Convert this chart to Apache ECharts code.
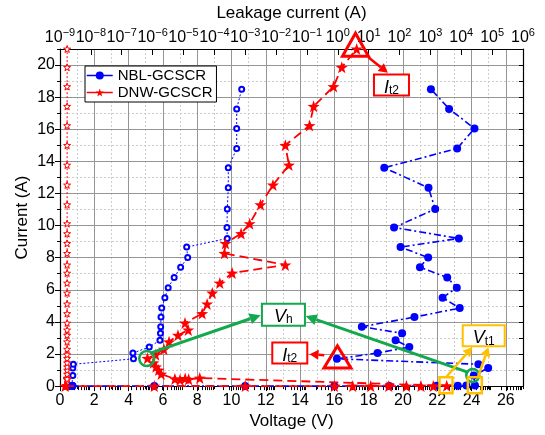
<!DOCTYPE html>
<html><head><meta charset="utf-8">
<script src="https://cdn.jsdelivr.net/npm/echarts@6/dist/echarts.min.js"></script>
<style>html,body{margin:0;padding:0;background:#fff}#c{width:545px;height:435px}</style>
</head><body><div id="c"></div>
<script>
// ---------- data ----------
const nblV = [0.7, 5.5, 10.8, 16.0, 19.2, 21.96, 23.2, 23.7, 24.2,
  24.13, 24.97, 24.4,
  16.15, 18.52, 20.37, 19.57, 19.95, 17.6, 20.67, 23.31, 22.31, 23.14,
  22.58, 20.99, 21.47, 19.86, 23.26, 19.48, 21.88, 21.49, 18.91, 23.16,
  24.17, 22.69, 21.63];
const nblI = [0, 0, 0, 0, 0, 0.02, 0.02, 0.03, 0.04,
  0.66, 1.13, 1.36,
  1.70, 2.06, 2.43, 2.86, 3.29, 3.70, 4.30, 4.86, 5.51, 6.13,
  6.77, 7.41, 8.01, 8.66, 9.20, 9.88, 11.03, 12.35, 13.60, 14.80,
  16.05, 17.27, 18.50];
const nblLeak = [2.4e-9, 2.5e-9, 2.5e-9, 2.6e-9, 2.5e-9, 2.6e-9, 2.5e-9, 2.6e-9, 2.5e-9,
  2.6e-9, 2.6e-9, 2.7e-9,
  2.4e-7, 2.3e-7, 7.8e-7, 1.73e-6, 1.80e-6, 1.83e-6, 1.87e-6, 1.97e-6, 2.5e-6, 3.2e-6,
  5.0e-6, 8.1e-6, 1.37e-5, 1.27e-5, 2.63e-4, 2.57e-4, 2.63e-4, 2.83e-4, 2.83e-4, 5.3e-4,
  5.3e-4, 5.3e-4, 7.7e-4];

const dnwV = [0.3, 5.5, 10.8, 16.0, 17.07, 18.12, 19.17, 20.2, 21.05, 21.77, 22.55,
  8.15, 7.5, 7.3, 7.0, 6.7,
  5.9, 5.75, 5.6, 5.45, 5.1,
  5.58, 6.06, 6.36, 6.88, 7.48, 7.29, 8.29, 8.58, 8.88, 9.32,
  10.04, 13.14, 9.59, 9.65, 10.56, 11.06, 11.69, 12.42, 13.35, 13.14,
  14.55, 14.79, 15.95, 16.43, 17.3];
const dnwI = [0, 0, 0, 0, 0, 0, 0, 0, 0, 0, 0.02,
  0.5, 0.42, 0.48, 0.4, 0.45,
  0.75, 1.0, 1.2, 1.45, 1.73,
  1.96, 2.30, 2.76, 3.17, 3.50, 3.93, 4.52, 5.12, 5.80, 6.42,
  7.04, 7.55, 8.27, 8.89, 9.50, 10.12, 11.30, 12.53, 13.77, 15.00,
  16.23, 17.43, 18.66, 19.86, 21.0];
const dnwLeak = [1.6e-9, 1.6e-9, 1.6e-9, 1.6e-9, 1.6e-9, 1.6e-9, 1.6e-9, 1.6e-9, 1.6e-9, 1.6e-9, 1.6e-9,
  1.7e-9, 1.7e-9, 1.7e-9, 1.7e-9, 1.7e-9,
  1.7e-9, 1.7e-9, 1.7e-9, 1.7e-9, 1.7e-9,
  1.7e-9, 1.7e-9, 1.7e-9, 1.7e-9, 1.7e-9, 1.7e-9, 1.7e-9, 1.7e-9, 1.7e-9, 1.7e-9,
  1.7e-9, 1.7e-9, 1.7e-9, 1.7e-9, 1.7e-9, 1.7e-9, 1.7e-9, 1.7e-9, 1.7e-9, 1.7e-9,
  1.7e-9, 1.7e-9, 1.7e-9, 1.7e-9, 1.7e-9];

const leakDecades = [-9, -8, -7, -6, -5, -4, -3, -2, -1, 0, 1, 2, 3, 4, 5, 6];
const voltRange = [0, 27];
const currRange = [0, 21];
const seriesNames = ['NBL-GCSCR', 'DNW-GCSCR'];

// ---------- styling ----------
const FONT = 'Liberation Sans, Arial, sans-serif';
const BLUE = '#0000ff', RED = '#ff0000', GREEN = '#12a84c', ORANGE = '#ffc000';
const STAR = 'path://M0,-10 L2.35,-3.24 L9.51,-3.09 L3.8,1.24 L5.88,8.09 L0,4 L-5.88,8.09 L-3.8,1.24 L-9.51,-3.09 L-2.35,-3.24 Z';
const MAJ = '#959595', MIN = '#cccccc';

const minorLogTicks = [];
for (let n = leakDecades[0]; n < leakDecades[leakDecades.length - 1]; n++) {
  for (let k = 2; k <= 9; k++) minorLogTicks.push(n + Math.log10(k));
}
const supText = v => {
  const s = v < 0 ? '\u2212' + (-v) : String(v);
  return '{a|10}{b|' + s + '}';
};
const axisLineStyle = { color: '#000', width: 1.2 };

const option = {
  animation: false,
  backgroundColor: '#fff',
  textStyle: { fontFamily: FONT },
  grid: { left: 60, right: 22, top: 48, bottom: 46 },
  legend: {
    data: seriesNames,
    orient: 'vertical', left: 85, top: 66,
    padding: [2, 4, 2, 1], itemGap: 2, itemWidth: 26, itemHeight: 10,
    borderColor: '#000', borderWidth: 1, backgroundColor: '#fff',
    lineStyle: { type: 'solid', width: 1.5 },
    textStyle: { fontSize: 15, fontFamily: FONT, color: '#000', lineHeight: 15 }
  },
  xAxis: [
    { // bottom voltage, major
      type: 'value', position: 'bottom', min: voltRange[0], max: voltRange[1], interval: 2, z: 1,
      name: 'Voltage (V)', nameLocation: 'middle', nameGap: 24,
      nameTextStyle: { fontSize: 17, color: '#000', fontFamily: FONT },
      axisLine: { show: true, onZero: false, lineStyle: axisLineStyle },
      axisTick: { show: true, inside: false, length: 5, lineStyle: { color: '#000' } },
      axisLabel: { fontSize: 16, color: '#000', margin: 6, showMaxLabel: false, fontFamily: FONT },
      splitLine: { show: true, lineStyle: { color: MAJ, width: 1 } }
    },
    { // top leakage, log-decade labels
      type: 'value', position: 'top', min: leakDecades[0], max: leakDecades[leakDecades.length - 1], interval: 1, z: 1,
      name: 'Leakage current (A)', nameLocation: 'middle', nameGap: 27,
      nameTextStyle: { fontSize: 17, color: '#000', fontFamily: FONT },
      axisLine: { show: true, onZero: false, lineStyle: axisLineStyle },
      axisTick: { show: true, inside: true, length: 6, lineStyle: { color: '#000', width: 1 } },
      axisLabel: {
        margin: 3, interval: 0, hideOverlap: false, formatter: supText,
        rich: {
          a: { fontSize: 16, lineHeight: 19, verticalAlign: 'bottom', color: '#000', fontFamily: FONT },
          b: { fontSize: 11, lineHeight: 11, verticalAlign: 'top', color: '#000', fontFamily: FONT }
        }
      },
      splitLine: { show: false }
    },
    { // top minor log ticks
      type: 'value', position: 'top', min: leakDecades[0], max: leakDecades[leakDecades.length - 1], interval: 15, z: 1,
      axisLine: { show: false }, axisLabel: { show: false }, splitLine: { show: false },
      axisTick: { show: true, inside: true, length: 4, customValues: minorLogTicks, lineStyle: { color: '#000', width: 1 } }
    },
    { // bottom minor grid
      type: 'value', position: 'bottom', min: voltRange[0], max: voltRange[1], interval: 1, z: 0,
      axisLine: { show: false }, axisLabel: { show: false },
      axisTick: { show: true, inside: false, length: 3, lineStyle: { color: '#000' } },
      splitLine: { show: true, lineStyle: { color: MIN, width: 1, type: [2, 2] } }
    }
  ],
  yAxis: [
    {
      type: 'value', position: 'left', min: currRange[0], max: currRange[1], interval: 2, z: 1,
      name: 'Current (A)', nameLocation: 'middle', nameGap: 29, nameMoveOverlap: false,
      nameTextStyle: { fontSize: 17, color: '#000', fontFamily: FONT },
      axisLine: { show: true, onZero: false, lineStyle: axisLineStyle },
      axisTick: { show: true, inside: false, length: 5, lineStyle: { color: '#000' } },
      axisLabel: { fontSize: 16, color: '#000', margin: 5, showMaxLabel: false, fontFamily: FONT },
      splitLine: { show: true, lineStyle: { color: MAJ, width: 1 } }
    },
    {
      type: 'value', position: 'right', min: currRange[0], max: currRange[1], interval: 1, z: 1,
      axisLine: { show: true, onZero: false, lineStyle: axisLineStyle },
      axisTick: { show: true, inside: true, length: 4, lineStyle: { color: '#000' } },
      axisLabel: { show: false }, splitLine: { show: false }
    },
    {
      type: 'value', position: 'left', min: currRange[0], max: currRange[1], interval: 1, z: 0,
      axisLine: { show: false }, axisLabel: { show: false },
      axisTick: { show: true, inside: false, length: 3, lineStyle: { color: '#000' } },
      splitLine: { show: true, lineStyle: { color: MIN, width: 1, type: [2, 2] } }
    }
  ],
  series: [
    {
      name: 'NBL-leak', type: 'line', xAxisIndex: 1, yAxisIndex: 0, clip: false, z: 3,
      data: nblLeak.map((v, i) => [Math.log10(v), nblI[i]]),
      symbol: 'emptyCircle', symbolSize: 5,
      itemStyle: { color: BLUE, borderWidth: 1 },
      lineStyle: { color: BLUE, width: 1, type: [2, 2] }
    },
    {
      name: 'DNW-leak', type: 'line', xAxisIndex: 1, yAxisIndex: 0, clip: false, z: 3,
      data: dnwLeak.map((v, i) => [Math.log10(v), dnwI[i]]),
      symbol: STAR, symbolSize: 7,
      itemStyle: { color: '#fff', borderColor: RED, borderWidth: 1 },
      lineStyle: { color: RED, width: 1, type: [2, 2] }
    },
    {
      name: seriesNames[0], type: 'line', xAxisIndex: 0, yAxisIndex: 0, clip: false, z: 4,
      data: nblV.map((v, i) => [v, nblI[i]]),
      symbol: 'circle', symbolSize: 8,
      itemStyle: { color: BLUE },
      lineStyle: { color: BLUE, width: 1.6, type: [7, 3, 2, 3] }
    },
    {
      name: seriesNames[1], type: 'line', xAxisIndex: 0, yAxisIndex: 0, clip: false, z: 5,
      data: dnwV.map((v, i) => [v, dnwI[i]]),
      symbol: STAR, symbolSize: 12,
      itemStyle: { color: RED },
      lineStyle: { color: RED, width: 1.8, type: [9, 5] }
    }
  ]
};

const chart = echarts.init(document.getElementById('c'), null, { renderer: 'canvas' });
chart.setOption(option);

// ---------- annotations (in data coordinates of the V-I axes) ----------
const anno = {
  triangles: [ { c: [17.23, 21.27], w: 26, h: 23 }, { c: [16.18, 1.82], w: 27, h: 22 } ],
  redArrows: [ [[17.98, 20.48], [19.12, 19.52]], [[15.41, 1.92], [14.55, 1.99]] ],
  redBoxes: [ { c: [19.33, 18.75], w: 35, h: 21 }, { c: [13.40, 2.06], w: 35, h: 21 } ],
  vhBox: { c: [13.03, 4.45], w: 43, h: 22 },
  greenCircles: [ { c: [5.06, 1.72], r: 7.5 }, { c: [24.07, 0.66], r: 6.5 } ],
  greenArrows: [ [[5.35, 2.09], [11.70, 4.42]], [[23.81, 0.86], [14.33, 4.36]] ],
  vt1Box: { c: [24.71, 3.14], w: 42, h: 21 },
  orangeSquares: [ { c: [22.51, 0.06], w: 13, h: 16 }, { c: [24.19, 0.06], w: 14, h: 16 } ],
  orangeArrows: [ [[22.55, 0.6], [24.04, 2.42]], [[24.39, 0.6], [24.98, 2.42]] ]
};
const P = (p) => chart.convertToPixel({ xAxisIndex: 0, yAxisIndex: 0 }, p);

function arrowEls(from, to, color, w, hl, hw) {
  const a = P(from), b = P(to);
  const dx = b[0] - a[0], dy = b[1] - a[1], L = Math.hypot(dx, dy), ux = dx / L, uy = dy / L;
  const bx = b[0] - ux * hl, by = b[1] - uy * hl;
  return [
    { type: 'line', z: 100, shape: { x1: a[0], y1: a[1], x2: bx, y2: by }, style: { stroke: color, lineWidth: w } },
    { type: 'polygon', z: 100, shape: { points: [[b[0], b[1]], [bx - uy * hw, by + ux * hw], [bx + uy * hw, by - ux * hw]] }, style: { fill: color } }
  ];
}
function boxEls(spec, color, main, sub) {
  const c = P(spec.c);
  return [
    { type: 'rect', z: 100, shape: { x: c[0] - spec.w / 2, y: c[1] - spec.h / 2, width: spec.w, height: spec.h },
      style: { fill: '#fff', stroke: color, lineWidth: 2 } },
    { type: 'text', z: 101, x: c[0], y: c[1] + 1,
      style: { text: '{i|' + main + '}{s|' + sub + '}', align: 'center', verticalAlign: 'middle',
        rich: {
          i: { fontSize: 18, fontStyle: 'italic', lineHeight: 21, verticalAlign: 'bottom', fill: '#000', fontFamily: FONT },
          s: { fontSize: 12, lineHeight: 12, verticalAlign: 'bottom', fill: '#000', fontFamily: FONT }
        } } }
  ];
}
const g = [];
anno.triangles.forEach(t => {
  const c = P(t.c);
  g.push({ type: 'polygon', z: 100, shape: { points: [[c[0], c[1] - t.h / 2], [c[0] - t.w / 2, c[1] + t.h / 2], [c[0] + t.w / 2, c[1] + t.h / 2]] },
    style: { fill: 'rgba(0,0,0,0)', stroke: RED, lineWidth: 3 } });
});
anno.redArrows.forEach(a => g.push(...arrowEls(a[0], a[1], RED, 2.5, 9, 5)));
anno.redBoxes.forEach(b => g.push(...boxEls(b, RED, 'I', 't2')));
anno.greenArrows.forEach(a => g.push(...arrowEls(a[0], a[1], GREEN, 3, 11, 5.5)));
anno.greenCircles.forEach(k => {
  const c = P(k.c);
  g.push({ type: 'circle', z: 100, shape: { cx: c[0], cy: c[1], r: k.r }, style: { fill: 'rgba(0,0,0,0)', stroke: GREEN, lineWidth: 2.5 } });
});
g.push(...boxEls(anno.vhBox, GREEN, 'V', 'h'));
anno.orangeSquares.forEach(s => {
  const c = P(s.c);
  g.push({ type: 'rect', z: 100, shape: { x: c[0] - s.w / 2, y: c[1] - s.h / 2, width: s.w, height: s.h }, style: { fill: 'rgba(0,0,0,0)', stroke: ORANGE, lineWidth: 2.5 } });
});
anno.orangeArrows.forEach(a => g.push(...arrowEls(a[0], a[1], ORANGE, 2.5, 9, 5)));
g.push(...boxEls(anno.vt1Box, ORANGE, 'V', 't1'));
chart.setOption({ graphic: g });
</script></body></html>
